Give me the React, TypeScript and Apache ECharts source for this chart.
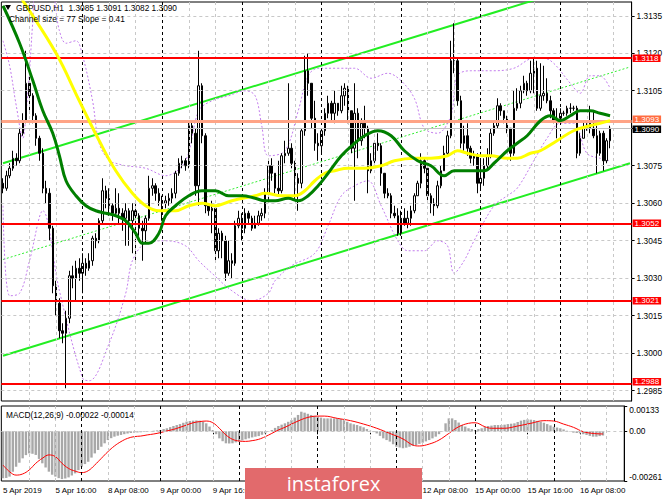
import { useEffect, useRef } from "react";
import * as echarts from "echarts";

const FONT = "'Liberation Sans', Arial, sans-serif";
const BASE = 1.3; // pip values below are pips above 1.3000
const PIP = 0.0001;

const firstOpenPips = 68;
const closePips = [
  66, 71, 74, 78, 77, 88, 93, 108, 103, 95,
  86, 80, 66, 64, 50, 27, 20, 9, 8, 14,
  31, 30, 34, 32, 36, 34, 37, 46, 45, 53,
  65, 62, 59, 56, 58, 56, 54, 57, 53, 57,
  55, 50, 49, 54, 66, 67, 64, 61, 60, 61,
  62, 64, 72, 76, 77, 75, 91, 88, 67, 107,
  87, 59, 57, 58, 41, 48, 45, 32, 37, 36,
  51, 54, 50, 56, 54, 50, 52, 55, 56, 64,
  75, 72, 66, 65, 79, 80, 82, 76, 70, 68,
  89, 113, 108, 94, 84, 83, 89, 96, 100, 96,
  100, 97, 103, 106, 97, 82, 96, 85, 92, 90,
  73, 77, 84, 83, 72, 64, 63, 56, 55, 48,
  54, 52, 54, 57, 63, 68, 77, 74, 63, 60,
  59, 67, 73, 80, 87, 117, 117, 101, 84, 87,
  82, 78, 79, 68, 70, 75, 79, 88, 91, 99,
  97, 94, 90, 80, 98, 100, 105, 108, 105, 112,
  114, 98, 103, 104, 101, 97, 93, 94, 96, 96,
  98, 98, 98, 80, 86, 90, 92, 90, 87, 80,
  88, 77, 85, 90,
];
const highPips = [
  70, 73, 76, 81, 80, 90, 96, 121, 112, 104,
  96, 87, 82, 69, 66, 51, 29, 22, 12, 17,
  33, 35, 37, 38, 40, 38, 40, 47, 48, 54,
  70, 67, 66, 60, 66, 64, 58, 60, 58, 60,
  61, 56, 53, 55, 71, 70, 68, 66, 63, 63,
  64, 66, 73, 78, 79, 78, 93, 93, 90, 121,
  108, 88, 60, 61, 58, 50, 49, 47, 45, 40,
  53, 57, 56, 58, 57, 55, 55, 57, 58, 66,
  77, 78, 72, 77, 80, 85, 108, 84, 77, 72,
  90, 119, 120, 108, 101, 88, 90, 98, 103, 101,
  105, 100, 107, 108, 107, 97, 108, 98, 94, 99,
  91, 80, 85, 88, 84, 72, 66, 64, 59, 58,
  57, 58, 57, 59, 64, 69, 80, 78, 74, 64,
  62, 69, 75, 83, 89, 125, 132, 118, 103, 91,
  92, 83, 81, 80, 77, 78, 82, 90, 93, 102,
  100, 97, 95, 90, 105, 106, 107, 111, 109, 117,
  118, 117, 116, 115, 110, 103, 98, 98, 98, 97,
  99, 100, 99, 99, 88, 93, 93, 99, 97, 91,
  89, 89, 86, 91,
];
const lowPips = [
  64, 65, 70, 73, 75, 76, 87, 92, 96, 92,
  83, 77, 64, 60, 45, 24, 15, 6, 4, -14,
  12, 26, 21, 29, 24, 31, 33, 35, 42, 44,
  52, 58, 55, 53, 55, 52, 49, 43, 43, 40,
  36, 47, 37, 44, 53, 63, 61, 59, 53, 58,
  59, 60, 62, 71, 74, 73, 74, 84, 63, 59,
  84, 56, 55, 48, 37, 38, 38, 29, 31, 30,
  35, 50, 45, 48, 52, 49, 50, 51, 53, 54,
  61, 69, 64, 63, 64, 76, 79, 74, 61, 57,
  66, 87, 103, 90, 81, 77, 80, 87, 94, 93,
  92, 95, 96, 99, 92, 80, 61, 78, 83, 86,
  64, 72, 76, 81, 67, 62, 62, 54, 54, 47,
  47, 51, 50, 51, 56, 63, 66, 72, 61, 56,
  55, 58, 66, 73, 79, 86, 112, 99, 82, 81,
  79, 76, 75, 64, 66, 67, 74, 78, 87, 90,
  95, 92, 88, 77, 79, 97, 98, 104, 103, 104,
  104, 97, 97, 101, 100, 94, 92, 86, 93, 95,
  95, 96, 97, 78, 79, 86, 89, 88, 86, 72,
  79, 73, 76, 82,
];

// moving averages and bands: [bar index, pips]
const slowMaPips = [
  [0, 153], [6, 141], [16, 120], [23, 101], [29, 85], [34, 73], [39, 64], [43, 59], [47, 57],
  [52, 57], [56, 59], [60, 60], [64, 59], [69, 61], [76, 63], [79, 64], [84, 63], [88, 63],
  [91, 65], [94, 69], [97, 72], [100, 73], [104, 74], [109, 74], [114, 75], [118, 77], [124, 78],
  [129, 78], [134, 79], [137, 81], [140, 80], [144, 79], [147, 79], [152, 78], [155, 78],
  [159, 80], [162, 81], [167, 85], [172, 89], [177, 91], [183, 93],
];
const fastMaPips = [
  [0, 139], [5, 124], [9, 109], [12, 97], [15, 88], [17, 79], [19, 69], [22, 63], [25, 59],
  [28, 57], [31, 56], [34, 55], [37, 53], [40, 48], [42, 44], [44, 44], [47, 48], [49, 55],
  [52, 59], [56, 63], [60, 65], [64, 65], [68, 63], [72, 63], [76, 62], [79, 61], [82, 61],
  [86, 62], [89, 61], [92, 63], [95, 67], [98, 72], [102, 79], [106, 84], [109, 87], [113, 89],
  [117, 87], [121, 81], [125, 77], [129, 75], [133, 71], [136, 73], [140, 73], [145, 73],
  [148, 76], [152, 81], [155, 84], [158, 87], [162, 93], [165, 95], [168, 93], [171, 95],
  [174, 97], [177, 97], [180, 96], [183, 95],
];
const bandUpperPips = [
  [0, 125], [2, 115], [4, 99], [6, 86], [7, 97], [8, 113], [9, 133], [10, 147], [14, 147],
  [17, 129], [19, 124], [22, 125], [24, 119], [27, 101], [29, 84], [32, 77], [34, 76], [37, 75],
  [43, 74], [49, 71], [55, 77], [59, 97], [63, 101], [68, 103], [73, 105], [76, 103], [78, 91],
  [80, 79], [85, 81], [89, 97], [92, 111], [95, 114], [101, 114], [106, 114], [111, 110],
  [116, 112], [120, 109], [124, 102], [127, 90], [131, 88], [135, 95], [137, 111], [141, 113],
  [148, 113], [154, 114], [160, 118], [163, 118], [166, 116], [171, 108], [174, 104],
  [177, 111], [180, 111], [183, 106],
];
const bandLowerPips = [
  [0, 59], [2, 23], [5, 24], [8, 37], [12, 57], [17, 25], [24, -10], [26, -11], [32, 4],
  [37, 24], [39, 37], [43, 44], [49, 45], [55, 43], [59, 37], [63, 32], [69, 25], [75, 21],
  [80, 24], [82, 29], [87, 35], [94, 40], [98, 51], [102, 63], [106, 67], [110, 69], [114, 59],
  [119, 45], [122, 41], [127, 41], [131, 45], [134, 43], [136, 32], [139, 37], [142, 45],
  [148, 59], [152, 63], [155, 66], [160, 77], [164, 86], [168, 92], [172, 92], [176, 80],
  [180, 78], [183, 77],
];

const channelLower = [[0, 1.2999], [189, 1.3076]];
const channelMiddle = [[0, 1.30375], [189, 1.31145]];
const channelUpper = [[0, 1.3076], [189, 1.3153]];

const levelLines = [1.3118, 1.3052, 1.3021, 1.2988];
const targetLevel = 1.3093;
const bidPrice = 1.309;
const priceGrid = [1.2985, 1.3, 1.3015, 1.303, 1.3045, 1.306, 1.3075, 1.309, 1.3105, 1.312, 1.3135];
const priceLabels = [1.2985, 1.3, 1.3015, 1.303, 1.3045, 1.306, 1.3075, 1.3105, 1.312, 1.3135];

// MACD main (histogram) and signal, in units of 0.00001
const macdHistE5 = [
  -247, -245, -238, -212, -186, -165, -142, -125, -116, -118,
  -124, -145, -168, -190, -212, -228, -238, -246, -251, -248,
  -242, -232, -221, -204, -186, -172, -160, -138, -116, -98,
  -81, -63, -46, -36, -28, -23, -19, -15, -11, -9,
  -7, -6, -5, -3, -2, 1, 3, 5, 7, 12,
  16, 22, 28, 33, 38, 45, 51, 54, 56, 57,
  56, 50, 42, 25, 7, -15, -37, -52, -63, -64,
  -63, -58, -54, -48, -42, -37, -32, -28, -25, -18,
  -11, -2, 7, 18, 28, 35, 42, 50, 59, 72,
  86, 103, 98, 92, 86, 81, 77, 72, 68, 68,
  68, 68, 68, 64, 59, 50, 42, 37, 33, 27,
  21, 12, 3, -4, -11, -24, -37, -46, -54, -68,
  -81, -85, -89, -86, -81, -76, -72, -66, -60, -53,
  -46, -37, -28, -15, -2, 42, 68, 68, 59, 46,
  33, 25, 16, 12, 7, 12, 16, 22, 28, 30,
  33, 33, 33, 35, 38, 40, 42, 49, 56, 60,
  63, 61, 59, 55, 51, 45, 38, 31, 24, 20,
  16, 10, 3, -2, -7, -9, -11, -15, -19, -24,
  -28, -28, -25, -22,
];
const macdSignalE5 = [
  [0, -177], [2, -212], [4, -230], [6, -224], [8, -203], [10, -168], [12, -142], [14, -124],
  [16, -133], [18, -168], [20, -195], [22, -209], [24, -217], [26, -207], [28, -177], [30, -142],
  [32, -107], [34, -77], [36, -54], [38, -37], [40, -28], [42, -25], [44, -19], [46, -14],
  [48, -7], [50, 2], [52, 10], [54, 21], [56, 33], [58, 45], [60, 51], [62, 54], [64, 45],
  [66, 16], [68, -19], [70, -42], [72, -51], [74, -53], [76, -49], [78, -42], [80, -28],
  [82, -11], [84, 7], [86, 21], [88, 38], [90, 54], [92, 68], [94, 77], [96, 80], [98, 80],
  [102, 68], [106, 56], [110, 38], [114, 16], [118, -11], [122, -40], [125, -72], [127, -77],
  [130, -67], [133, -46], [136, -11], [139, 24], [142, 42], [144, 45], [147, 24], [149, 16],
  [153, 16], [157, 28], [161, 42], [165, 56], [168, 54], [171, 38], [174, 21], [177, -2],
  [180, -11], [183, -14],
];
const macdTicks = [-0.00261, 0, 0.00133];

const timeLabels = [
  "5 Apr 2019", "5 Apr 16:00", "8 Apr 08:00", "9 Apr 00:00", "9 Apr 16:00", "10 Apr 08:00",
  "11 Apr 00:00", "11 Apr 16:00", "12 Apr 08:00", "15 Apr 00:00", "15 Apr 16:00", "16 Apr 08:00",
];
// labels that lie completely under the logo in the picture
const labelsUnderLogo = ["10 Apr 08:00", "11 Apr 00:00", "11 Apr 16:00"];
const LABEL_STEP = 16;
const GRID_STEP = 8;
const daySeparators = [24, 48, 72, 96, 120, 144, 168];
const SLOTS = 190;

const headerText = "GBPUSD,H1  1.3085 1.3091 1.3082 1.3090";
const channelText = "Channel size = 77 Slope = 0.41";
const macdText = "MACD(12,26,9) -0.00022 -0.00014";

function buildOption() {
  const cats = Array.from({ length: SLOTS }, (_, i) => String(i));
  const toPrice = (p: number) => +(BASE + p * PIP).toFixed(5);
  const candles = closePips.map((c, i) => {
    const o = i === 0 ? firstOpenPips : closePips[i - 1];
    return [toPrice(o), toPrice(c), toPrice(lowPips[i]), toPrice(highPips[i])];
  });
  const pipLine = (arr: number[][]) => arr.map(([i, p]) => [i, toPrice(p)]);

  const lightV = { type: [3, 3], color: "#c8c8c8", width: 1 };
  const darkV = { type: [3, 3], color: "#000000", width: 1 };
  const vLines: any[] = [];
  for (let i = GRID_STEP; i < SLOTS; i += GRID_STEP) {
    vLines.push({ xAxis: i, lineStyle: daySeparators.includes(i) ? darkV : lightV });
  }
  const hGrid = priceGrid.map((v) => ({ yAxis: v, lineStyle: { type: [3, 3], color: "#c8c8c8", width: 1 } }));

  const tag = (bg: string, dy: number) => ({
    show: true,
    position: "end",
    distance: 1,
    offset: [0, dy],
    formatter: (p: any) => Number(p.value).toFixed(4),
    backgroundColor: bg,
    color: "#ffffff",
    fontSize: 8,
    lineHeight: 7.5,
    fontFamily: FONT,
    padding: [0, 2, 0, 2],
  });

  const labelInterval = (i: number) => i % LABEL_STEP === 0 && i / LABEL_STEP < timeLabels.length;

  const gridLineMark = {
    silent: true,
    precision: 6,
    symbol: ["none", "none"],
    label: { show: false },
    animation: false,
  };

  return {
    animation: false,
    backgroundColor: "#ffffff",
    grid: [
      { left: 1.34, top: 2, width: 631.1, height: 399, show: true, borderColor: "#000", borderWidth: 1, backgroundColor: "transparent" },
      { left: 1.34, top: 406, width: 631.1, height: 75, show: true, borderColor: "#000", borderWidth: 1, backgroundColor: "transparent" },
    ],
    xAxis: [
      {
        type: "category", gridIndex: 0, data: cats, boundaryGap: true,
        axisLine: { show: false }, axisTick: { show: false }, axisLabel: { show: false }, splitLine: { show: false },
      },
      {
        type: "category", gridIndex: 1, data: cats, boundaryGap: true,
        axisLine: { show: false },
        axisTick: { show: true, interval: labelInterval, alignWithLabel: true, length: 3, lineStyle: { color: "#000" } },
        axisLabel: {
          interval: labelInterval,
          formatter: (_v: string, i: number) => {
            const t = timeLabels[i / LABEL_STEP] ?? "";
            return labelsUnderLogo.includes(t) ? "" : t;
          },
          align: "left", margin: 5, fontSize: 8, color: "#000", fontFamily: FONT,
        },
        splitLine: { show: false },
      },
    ],
    yAxis: [
      {
        type: "value", gridIndex: 0, position: "right", min: 1.29809, max: 1.31405, scale: true,
        axisLine: { show: true, lineStyle: { color: "#000" } },
        axisTick: { show: true, customValues: priceGrid, length: 3, lineStyle: { color: "#000" } },
        axisLabel: { customValues: priceLabels, formatter: (v: number) => v.toFixed(4), color: "#000", fontSize: 8.3, fontFamily: FONT, margin: 5 },
        splitLine: { show: false },
      },
      {
        type: "value", gridIndex: 1, position: "right", min: -0.00261, max: 0.00133,
        axisLine: { show: true, lineStyle: { color: "#000" } },
        axisTick: { show: true, customValues: macdTicks, length: 3, lineStyle: { color: "#000" } },
        axisLabel: {
          customValues: macdTicks,
          formatter: (v: number) => (v === 0 ? "0.00" : v.toFixed(5)),
          color: "#000", fontSize: 8.3, fontFamily: FONT, margin: 5,
          verticalAlignMinLabel: "bottom", verticalAlignMaxLabel: "top",
        },
        splitLine: { show: false },
      },
    ],
    series: [
      {
        name: "channel middle", type: "line", xAxisIndex: 0, yAxisIndex: 0, z: 1,
        data: channelMiddle, symbol: "none", clip: true,
        lineStyle: { color: "#33ee33", width: 1, type: [2, 2] },
        markLine: { ...gridLineMark, data: [...hGrid, ...vLines] },
      },
      {
        name: "levels", type: "line", xAxisIndex: 0, yAxisIndex: 0, z: 2,
        data: channelLower, symbol: "none", clip: true,
        lineStyle: { color: "#22ee22", width: 2 },
        markLine: {
          silent: true, precision: 6, symbol: ["none", "none"], animation: false,
          data: [
            { yAxis: bidPrice, lineStyle: { color: "#c0c0c0", width: 1, type: "solid" }, label: tag("#000000", 1) },
            { yAxis: targetLevel, lineStyle: { color: "#ffa486", width: 3, type: "solid" }, label: tag("#ff6c40", -1.5) },
            ...levelLines.map((v) => ({
              yAxis: v,
              lineStyle: { color: "#ff0000", width: 2, type: "solid" },
              label: tag("#ff0000", v < 1.3 ? -1.5 : 0),
            })),
          ],
        },
      },
      {
        name: "channel upper", type: "line", xAxisIndex: 0, yAxisIndex: 0, z: 2,
        data: channelUpper, symbol: "none", clip: true,
        lineStyle: { color: "#22ee22", width: 2 },
      },
      {
        name: "band upper", type: "line", xAxisIndex: 0, yAxisIndex: 0, z: 2,
        data: pipLine(bandUpperPips), symbol: "none", smooth: 0.35, clip: true,
        lineStyle: { color: "#c27ced", width: 1, type: [2, 2] },
      },
      {
        name: "band lower", type: "line", xAxisIndex: 0, yAxisIndex: 0, z: 2,
        data: pipLine(bandLowerPips), symbol: "none", smooth: 0.35, clip: true,
        lineStyle: { color: "#c27ced", width: 1, type: [2, 2] },
      },
      {
        name: "GBPUSD", type: "candlestick", xAxisIndex: 0, yAxisIndex: 0, z: 4,
        data: candles, barWidth: 2,
        itemStyle: { color: "#ffffff", color0: "#000000", borderColor: "#000000", borderColor0: "#000000", borderWidth: 1 },
      },
      {
        name: "slow MA", type: "line", xAxisIndex: 0, yAxisIndex: 0, z: 5,
        data: pipLine(slowMaPips), symbol: "none", smooth: 0.4, clip: true,
        lineStyle: { color: "#ffff00", width: 3 },
      },
      {
        name: "fast MA", type: "line", xAxisIndex: 0, yAxisIndex: 0, z: 6,
        data: pipLine(fastMaPips), symbol: "none", smooth: 0.4, clip: true,
        lineStyle: { color: "#007f00", width: 3 },
      },
      {
        name: "MACD", type: "bar", xAxisIndex: 1, yAxisIndex: 1, z: 3,
        data: macdHistE5.map((v) => +(v * 1e-5).toFixed(5)), barWidth: 2.4,
        itemStyle: { color: "#a8a8a8" },
        markLine: {
          ...gridLineMark,
          data: [
            { yAxis: 0, lineStyle: { type: [3, 3], color: "#c8c8c8", width: 1 } },
            ...vLines,
          ],
        },
      },
      {
        name: "Signal", type: "line", xAxisIndex: 1, yAxisIndex: 1, z: 4,
        data: macdSignalE5.map(([i, v]) => [i, +(v * 1e-5).toFixed(5)]), symbol: "none", smooth: 0.4,
        lineStyle: { color: "#ff0000", width: 1 },
      },
    ],
    graphic: [
      { type: "polygon", shape: { points: [[5, 5], [11, 5], [8, 10]] }, style: { fill: "#000" }, z: 50 },
      { type: "text", x: 16, y: 8, z: 50, style: { text: headerText, fill: "#000", font: `8.3px ${FONT}`, verticalAlign: "middle" } },
      { type: "text", x: 9, y: 19, z: 50, style: { text: channelText, fill: "#000", font: `8.3px ${FONT}`, verticalAlign: "middle" } },
      { type: "text", x: 6, y: 415, z: 50, style: { text: macdText, fill: "#000", font: `8.3px ${FONT}`, verticalAlign: "middle" } },
      { type: "rect", shape: { x: 245, y: 468, width: 177, height: 31 }, style: { fill: "#e26a6c" }, z: 100 },
      {
        type: "text", x: 333.5, y: 483, z: 101,
        style: { text: "instaforex", fill: "#ffffff", font: "20px 'Open Sans', sans-serif", align: "center", verticalAlign: "middle" },
      },
    ],
  };
}

export default function App() {
  const ref = useRef<HTMLDivElement>(null);
  useEffect(() => {
    if (!ref.current) return;
    const chart = echarts.init(ref.current, null, { renderer: "svg" });
    chart.setOption(buildOption() as any);
    return () => chart.dispose();
  }, []);
  return (
    <div
      ref={ref}
      style={{ position: "absolute", left: 0, top: 0, width: 665, height: 499, background: "#fff" }}
    />
  );
}
